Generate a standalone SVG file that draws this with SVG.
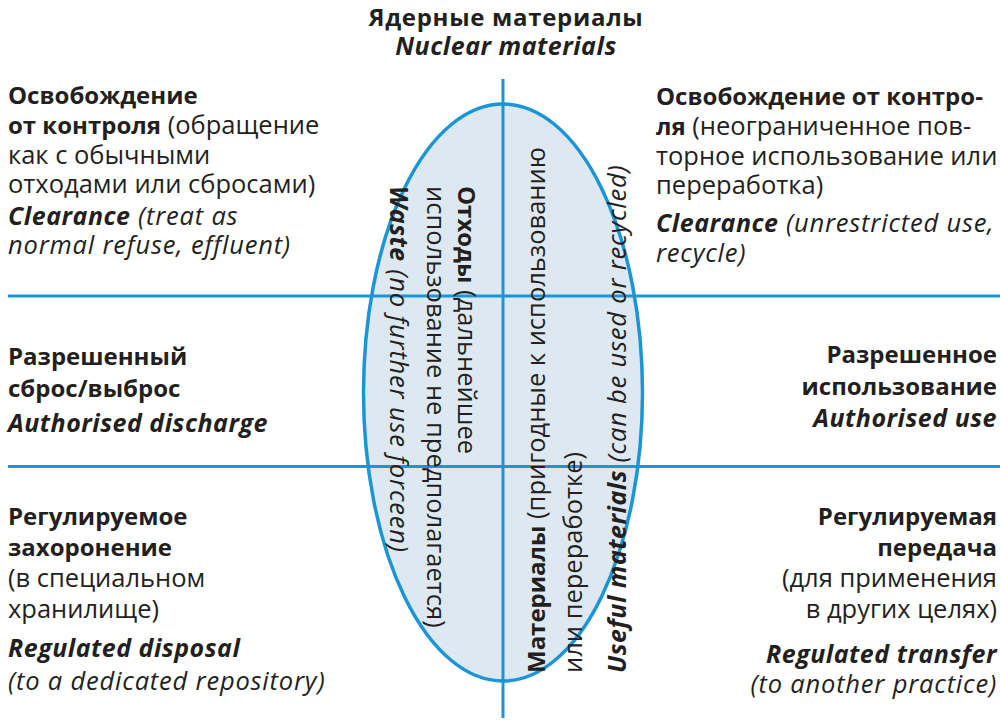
<svg xmlns="http://www.w3.org/2000/svg" width="1000" height="721" viewBox="0 0 1000 721">
<style>
text{font-family:"Open Sans","Noto Sans","DejaVu Sans",sans-serif;font-size:25.5px;fill:#231f20}
.b{font-weight:bold;font-size:24px}
.i{font-style:italic;letter-spacing:0.8px}
.bi{font-weight:bold;font-style:italic;font-size:25px;letter-spacing:0.5px}
.t{font-weight:bold;font-size:24px;letter-spacing:0.7px}
.ln{stroke:#1a95d5;stroke-width:3;fill:none}
</style>
<rect width="1000" height="721" fill="#ffffff"/>
<g id="ellipse">
<ellipse cx="503" cy="392.5" rx="139.5" ry="288.5" fill="#dde8f1" stroke="#1a95d5" stroke-width="3.5"/>
</g>
<g id="connectors">
<line class="ln" x1="503" y1="79" x2="503" y2="718"/>
<line class="ln" x1="8" y1="296" x2="1000" y2="296"/>
<line class="ln" x1="8" y1="466.5" x2="1000" y2="466.5"/>
</g>
<g id="title">
<text x="506" y="26" text-anchor="middle" class="t">Ядерные материалы</text>
<text x="506" y="55" text-anchor="middle" class="bi">Nuclear materials</text>
</g>
<g id="clearance-left">
<text x="8" y="104" class="b">Освобождение</text>
<text x="8" y="134"><tspan class="b">от контроля</tspan> (обращение</text>
<text x="8" y="164">как с обычными</text>
<text x="8" y="193">отходами или сбросами)</text>
<text x="8" y="225"><tspan class="bi">Clearance</tspan><tspan class="i"> (treat as</tspan></text>
<text x="8" y="254" class="i">normal refuse, effluent)</text>
</g>
<g id="clearance-right">
<text x="656" y="105" class="b">Освобождение от контро-</text>
<text x="656" y="135"><tspan class="b">ля</tspan> (неограниченное пов-</text>
<text x="656" y="165">торное использование или</text>
<text x="656" y="194">переработка)</text>
<text x="656" y="232"><tspan class="bi">Clearance</tspan><tspan class="i"> (unrestricted use,</tspan></text>
<text x="656" y="262" class="i">recycle)</text>
</g>
<g id="discharge">
<text x="8" y="365" class="b">Разрешенный</text>
<text x="8" y="397" class="b">сброс/выброс</text>
<text x="8" y="432" class="bi">Authorised discharge</text>
</g>
<g id="use">
<text x="997" y="363" text-anchor="end" class="b">Разрешенное</text>
<text x="997" y="395" text-anchor="end" class="b">использование</text>
<text x="997" y="427" text-anchor="end" class="bi">Authorised use</text>
</g>
<g id="disposal">
<text x="8" y="525" class="b">Регулируемое</text>
<text x="8" y="556" class="b">захоронение</text>
<text x="8" y="587">(в специальном</text>
<text x="8" y="618">хранилище)</text>
<text x="8" y="657" class="bi">Regulated disposal</text>
<text x="8" y="690" class="i">(to a dedicated repository)</text>
</g>
<g id="transfer">
<text x="997" y="525" text-anchor="end" class="b">Регулируемая</text>
<text x="997" y="556" text-anchor="end" class="b">передача</text>
<text x="997" y="587" text-anchor="end">(для применения</text>
<text x="997" y="618" text-anchor="end">в других целях)</text>
<text x="997" y="663" text-anchor="end" class="bi">Regulated transfer</text>
<text x="997" y="693" text-anchor="end" class="i">(to another practice)</text>
</g>
<g id="waste">
<text transform="translate(458,186) rotate(90)"><tspan class="b">Отходы</tspan> (дальнейшее</text>
<text transform="translate(427,186) rotate(90)">использование не предполагается)</text>
<text transform="translate(390,186) rotate(90)"><tspan class="bi">Waste</tspan><tspan class="i"> (no further use forceen)</tspan></text>
</g>
<g id="materials">
<text transform="translate(545,673) rotate(-90)"><tspan class="b">Материалы</tspan> (пригодные к использованию</text>
<text transform="translate(582,673) rotate(-90)">или переработке)</text>
<text transform="translate(626,673) rotate(-90)"><tspan class="bi">Useful materials</tspan><tspan class="i"> (can be used or recycled)</tspan></text>
</g>
</svg>
